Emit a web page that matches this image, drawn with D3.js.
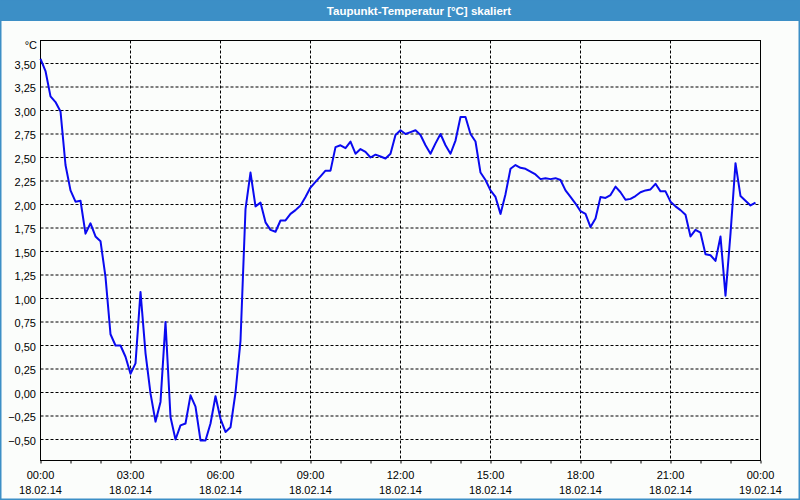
<!DOCTYPE html>
<html>
<head>
<meta charset="utf-8">
<script src="https://cdn.jsdelivr.net/npm/d3@7/dist/d3.min.js"></script>
<style>
  html, body { margin: 0; padding: 0; background: #fbfdfb; }
  svg { display: block; }
  text { font-family: "Liberation Sans", Arial, sans-serif; }
</style>
</head>
<body>
<svg id="chart" width="800" height="500"></svg>
<script>
// ---- data ----
const title = "Taupunkt-Temperatur [°C] skaliert";
const unitLabel = "°C";
const startTime = "2014-02-18T00:00:00Z";
const endTime = "2014-02-19T00:00:00Z";
const sampleMinutes = 10;
const dewPoint = [
  3.55, 3.42, 3.15, 3.09, 2.99, 2.42, 2.15, 2.03, 2.04, 1.69,
  1.80, 1.66, 1.61, 1.23, 0.62, 0.50, 0.50, 0.38, 0.20, 0.31,
  1.07, 0.42, -0.01, -0.31, -0.10, 0.75, -0.26, -0.50, -0.35, -0.33,
  -0.03, -0.15, -0.51, -0.51, -0.33, -0.04, -0.28, -0.42, -0.37, 0.00,
  0.55, 1.95, 2.34, 1.98, 2.02, 1.81, 1.73, 1.71, 1.83, 1.83,
  1.90, 1.94, 1.99, 2.08, 2.18, 2.24, 2.30, 2.36, 2.36, 2.61,
  2.63, 2.60, 2.67, 2.54, 2.59, 2.56, 2.50, 2.53, 2.51, 2.49,
  2.54, 2.74, 2.79, 2.75, 2.77, 2.79, 2.74, 2.63, 2.54, 2.65,
  2.75, 2.63, 2.54, 2.68, 2.93, 2.93, 2.75, 2.67, 2.34, 2.26,
  2.15, 2.08, 1.90, 2.11, 2.38, 2.42, 2.39, 2.38, 2.35, 2.32,
  2.27, 2.28, 2.27, 2.28, 2.26, 2.15, 2.08, 2.01, 1.93, 1.90,
  1.76, 1.85, 2.08, 2.07, 2.10, 2.19, 2.13, 2.05, 2.06, 2.09,
  2.13, 2.15, 2.16, 2.22, 2.14, 2.14, 2.03, 1.98, 1.94, 1.89,
  1.66, 1.73, 1.70, 1.47, 1.46, 1.40, 1.66, 1.03, 1.69, 2.44,
  2.09, 2.04, 1.99, 2.02
];
const yTicks = [-0.5, -0.25, 0, 0.25, 0.5, 0.75, 1, 1.25, 1.5, 1.75, 2, 2.25, 2.5, 2.75, 3, 3.25, 3.5];
const xMajorHours = 3;

// ---- layout ----
const W = 800, H = 500;
const plot = { left: 40.5, right: 760.5, top: 40.5, bottom: 460.5 };

const svg = d3.select("#chart");
const t0 = new Date(startTime), t1 = new Date(endTime);
const points = dewPoint.map((v, i) => ({ t: new Date(t0.getTime() + i * sampleMinutes * 60000), v }));

const x = d3.scaleUtc().domain([t0, t1]).range([plot.left, plot.right]);
const y = d3.scaleLinear().domain([-0.5, 3.5]).range([439.5, 63.5]);

// window frame
svg.append("rect").attr("x", 0).attr("y", 0).attr("width", W).attr("height", H).attr("fill", "#fbfdfb");
svg.append("rect").attr("x", 0).attr("y", 0).attr("width", W).attr("height", 21).attr("fill", "#3c8fc6");
svg.append("rect").attr("x", 0.75).attr("y", 0).attr("width", W - 1.5).attr("height", H - 0.75)
  .attr("fill", "none").attr("stroke", "#3c8fc6").attr("stroke-width", 1.5);
svg.append("text").attr("x", 419).attr("y", 15).attr("text-anchor", "middle")
  .attr("fill", "#ffffff").attr("font-size", "11.5px").attr("font-weight", "bold").text(title);

// grid
const g = svg.append("g");
g.selectAll("line.hg").data(yTicks).join("line")
  .attr("x1", plot.left).attr("x2", plot.right)
  .attr("y1", d => y(d)).attr("y2", d => y(d))
  .attr("stroke", "#000").attr("stroke-width", 1).attr("stroke-dasharray", "3,2");
const majors = x.ticks(d3.utcHour.every(xMajorHours));
g.selectAll("line.vg").data(majors.slice(1, -1)).join("line")
  .attr("x1", d => x(d)).attr("x2", d => x(d))
  .attr("y1", plot.top).attr("y2", plot.bottom)
  .attr("stroke", "#000").attr("stroke-width", 1).attr("stroke-dasharray", "3,2");

// frame of plot
svg.append("rect").attr("x", plot.left).attr("y", plot.top)
  .attr("width", plot.right - plot.left).attr("height", plot.bottom - plot.top)
  .attr("fill", "none").attr("stroke", "#000").attr("stroke-width", 1);

// y axis labels
const fmtY = v => d3.format(".2f")(v).replace(".", ",").replace("-0,00", "0,00");
svg.selectAll("text.yl").data(yTicks).join("text")
  .attr("x", 36).attr("y", d => y(d) + 5).attr("text-anchor", "end")
  .attr("font-size", "11px").attr("fill", "#000").text(fmtY);
svg.append("text").attr("x", 37).attr("y", 49).attr("text-anchor", "end")
  .attr("font-size", "11px").attr("fill", "#000").text(unitLabel);

// x axis
const xAxis = d3.axisBottom(x).ticks(d3.utcHour.every(1)).tickSize(3).tickFormat("");
const ax = svg.append("g").attr("transform", `translate(0,${plot.bottom})`).call(xAxis);
ax.select(".domain").remove();
ax.selectAll(".tick line").attr("stroke", "#000");

const fmtT = d3.utcFormat("%H:%M"), fmtD = d3.utcFormat("%d.%m.%y");
const lbl = svg.selectAll("g.xl").data(majors).join("g");
lbl.append("text").attr("x", d => x(d)).attr("y", 479).attr("text-anchor", "middle")
  .attr("font-size", "11px").attr("fill", "#000").text(fmtT);
lbl.append("text").attr("x", d => x(d)).attr("y", 494).attr("text-anchor", "middle")
  .attr("font-size", "11px").attr("fill", "#000").text(fmtD);

// line
const line = d3.line().x(d => x(d.t)).y(d => y(d.v));
svg.append("path").datum(points).attr("d", line)
  .attr("fill", "none").attr("stroke", "#0a0af0").attr("stroke-width", 2)
  .attr("stroke-linejoin", "round");
</script>
</body>
</html>
